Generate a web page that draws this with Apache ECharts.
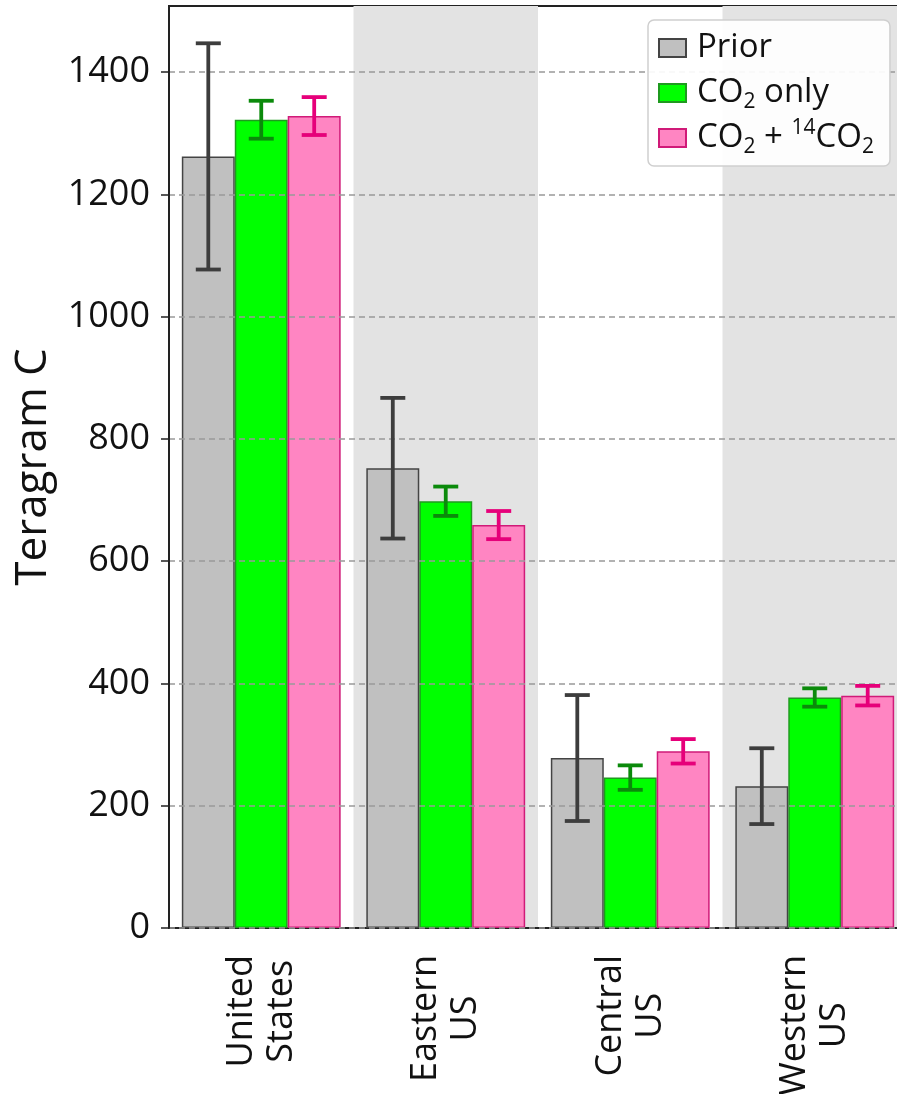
<!DOCTYPE html>
<html><head><meta charset="utf-8">
<script src="https://cdn.jsdelivr.net/npm/echarts@6/dist/echarts.min.js"></script>
<style>html,body{margin:0;padding:0;background:#fff}#c{width:897px;height:1094px}</style>
</head><body><div id="c"></div>
<script>
const categories = ['United\nStates', 'Eastern\nUS', 'Central\nUS', 'Western\nUS'];
const seriesNames = ['Prior', 'CO2 only', 'CO2 + 14CO2'];
const priorValues = [1262, 752, 278, 232];
const priorErrors = [185, 115, 103, 62];
const co2Values = [1322, 698, 246, 377];
const co2Errors = [31, 24, 20, 15];
const c14Values = [1328, 659, 289, 380];
const c14Errors = [31, 23, 20, 16];
const yTicks = [0, 200, 400, 600, 800, 1000, 1200, 1400];

const FONT = 'Open Sans';
const BAR_FRAC = 0.287;
const legendLabels = {
  'Prior': 'Prior',
  'CO2 only': 'CO{sub|2} only',
  'CO2 + 14CO2': 'CO{sub|2} + {sup|14}CO{sub|2}'
};

function errSeries(name, values, errors, k, color) {
  return {
    type: 'custom',
    name: name + ' err',
    z: 8,
    silent: true,
    data: values.map((v, i) => [i, v, errors[i]]),
    encode: { x: 0, y: 1 },
    renderItem: function (params, api) {
      const ci = api.value(0), v = api.value(1), e = api.value(2);
      const band = api.size([1, 0])[0];
      const bw = band * BAR_FRAC;
      const p = api.coord([ci, v]);
      const x = p[0] + (k - 1) * bw;
      const yt = api.coord([ci, v + e])[1];
      const yb = api.coord([ci, v - e])[1];
      const cap = 12.5;
      const st = { stroke: color, lineWidth: 3.8 };
      return {
        type: 'group', children: [
          { type: 'line', shape: { x1: x, y1: yt, x2: x, y2: yb }, style: st },
          { type: 'line', shape: { x1: x - cap, y1: yt, x2: x + cap, y2: yt }, style: st },
          { type: 'line', shape: { x1: x - cap, y1: yb, x2: x + cap, y2: yb }, style: st }
        ]
      };
    }
  };
}

const chart = echarts.init(document.getElementById('c'), null, { renderer: 'canvas' });
chart.setOption({
  backgroundColor: '#ffffff',
  animation: false,
  textStyle: { fontFamily: FONT },
  grid: {
    left: 169, right: -10, top: 6, bottom: 166,
    outerBoundsMode: 'none', containLabel: false,
    show: true, borderColor: '#222', borderWidth: 2, backgroundColor: 'transparent'
  },
  legend: {
    data: seriesNames,
    orient: 'vertical',
    left: 648, top: 20,
    z: 10,
    icon: 'rect',
    itemWidth: 27, itemHeight: 18, itemGap: 5,
    padding: [8, 16, 8, 10],
    backgroundColor: 'rgba(255,255,255,0.92)',
    borderColor: '#cfcfcf', borderWidth: 1.5, borderRadius: 6,
    formatter: n => legendLabels[n],
    textStyle: {
      fontFamily: FONT, fontSize: 33, color: '#111', lineHeight: 40,
      padding: [0, 0, 0, 6],
      rich: {
        sub: { fontFamily: FONT, fontSize: 21, lineHeight: 22, verticalAlign: 'bottom', color: '#111' },
        sup: { fontFamily: FONT, fontSize: 21, lineHeight: 22, verticalAlign: 'top', color: '#111' }
      }
    }
  },
  xAxis: {
    type: 'category',
    data: categories,
    z: 0,
    axisLine: { lineStyle: { color: '#222', width: 2 } },
    axisTick: { show: false },
    axisLabel: {
      interval: 0, rotate: 90, align: 'right', verticalAlign: 'middle',
      margin: 27, fontSize: 36, lineHeight: 40, color: '#111', fontFamily: FONT,
      formatter: v => v.split('\n').map(l => '{c|' + l + '}').join('\n'),
      rich: {
        c: { align: 'center', fontSize: 36, lineHeight: 40, color: '#111', fontFamily: FONT }
      }
    },
    splitArea: { show: true, interval: 0, areaStyle: { color: ['rgba(255,255,255,0)', '#e3e3e3'] } }
  },
  yAxis: {
    type: 'value',
    min: 0, max: 1508, interval: 200,
    z: 5,
    name: 'Teragram C',
    nameLocation: 'middle', nameRotate: 90, nameGap: 114,
    nameTextStyle: { fontSize: 44, color: '#111', fontFamily: FONT },
    axisLine: { show: true, lineStyle: { color: '#222', width: 2 } },
    axisTick: { show: true, length: 8, lineStyle: { color: '#222', width: 1.5 }, customValues: yTicks },
    axisLabel: {
      fontSize: 36, color: '#111', margin: 19, fontFamily: FONT,
      customValues: yTicks,
      formatter: v => (v % 200 === 0 ? String(v) : '')
    },
    splitLine: { show: true, lineStyle: { color: '#999', width: 1.5, type: [6, 4] } }
  },
  series: [
    { type: 'bar', name: seriesNames[0], data: priorValues, barWidth: (BAR_FRAC * 100) + '%', barGap: '0%',
      itemStyle: { color: '#c0c0c0', borderColor: '#444', borderWidth: 1.5 } },
    { type: 'bar', name: seriesNames[1], data: co2Values, barWidth: (BAR_FRAC * 100) + '%', barGap: '0%',
      itemStyle: { color: '#00ff00', borderColor: '#1f9a1f', borderWidth: 1.5 } },
    { type: 'bar', name: seriesNames[2], data: c14Values, barWidth: (BAR_FRAC * 100) + '%', barGap: '0%',
      itemStyle: { color: '#ff85c2', borderColor: '#d01a78', borderWidth: 1.5 } },
    errSeries(seriesNames[0], priorValues, priorErrors, 0, '#3d3d3d'),
    errSeries(seriesNames[1], co2Values, co2Errors, 1, '#0b8a0b'),
    errSeries(seriesNames[2], c14Values, c14Errors, 2, '#e6007a')
  ]
});
</script>
</body></html>
